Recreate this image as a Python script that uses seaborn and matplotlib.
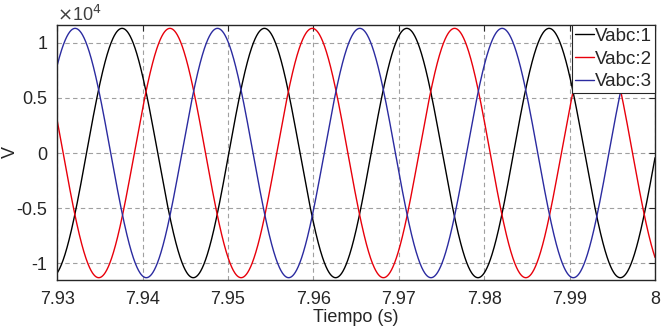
import numpy as np
import pandas as pd
import matplotlib
matplotlib.use("Agg")
import matplotlib.pyplot as plt
import seaborn as sns

# Signal values
phase_names = ["Vabc:1", "Vabc:2", "Vabc:3"]
phase_colors = ["#000000", "#e8000b", "#2b2ba0"]
peak_times = [7.9376, 7.9432, 7.9321]   # first crest of each phase (s)
amplitude = 1.13e4                      # crest value (V)
freq = 60.0                             # Hz
t_start, t_end = 7.93, 8.0

x_ticks = [7.93, 7.94, 7.95, 7.96, 7.97, 7.98, 7.99, 8.0]
x_labels = ["7.93", "7.94", "7.95", "7.96", "7.97", "7.98", "7.99", "8"]
y_ticks = [-1, -0.5, 0, 0.5, 1]
y_labels = ["-1", "-0.5", "0", "0.5", "1"]

# Build long-form table
t = np.linspace(t_start, t_end, 2000)
frames = []
for name, tp in zip(phase_names, peak_times):
    frames.append(pd.DataFrame({
        "t": t,
        "v": amplitude * np.cos(2 * np.pi * freq * (t - tp)) / 1e4,
        "phase": name,
    }))
df = pd.concat(frames, ignore_index=True)

sns.set_style("white")
plt.rcParams["font.family"] = ["Liberation Sans", "DejaVu Sans"]

fig = plt.figure(figsize=(6.65, 3.34), dpi=100)
ax = fig.add_axes([0.086, 0.162, 0.899, 0.763])

sns.lineplot(data=df, x="t", y="v", hue="phase", palette=phase_colors,
             linewidth=1.0, ax=ax, legend=True)

ax.set_xlim(t_start, t_end)
ax.set_ylim(-1.15, 1.16)
ax.set_xticks(x_ticks)
ax.set_xticklabels(x_labels)
ax.set_yticks(y_ticks)
ax.set_yticklabels(y_labels)
ax.tick_params(direction="in", length=4, labelsize=13, colors="#262626",
               top=True, right=True)
ax.tick_params(axis="x", pad=8)
ax.tick_params(axis="y", pad=7)
ax.grid(True, color="#a0a0a0", linestyle=(0, (4, 3)), linewidth=0.8)
for sp in ax.spines.values():
    sp.set_color("#262626")
    sp.set_linewidth(1.0)

ax.set_xlabel("Tiempo (s)", fontsize=13, color="#262626", labelpad=1)
ax.set_ylabel("V", fontsize=13, color="#262626")
ax.yaxis.set_label_coords(-0.064, 0.5)
ax.text(0.0, 1.0, r"$\times$10$^{4}$", transform=ax.transAxes,
        fontsize=13, color="#404040", ha="left", va="bottom")

leg = ax.legend(loc="upper right", fontsize=13.5, frameon=True, fancybox=False,
                borderaxespad=0, handlelength=1.0, handletextpad=0.08,
                borderpad=0.15, labelspacing=0.3)
leg.get_frame().set_edgecolor("#262626")
leg.get_frame().set_linewidth(0.8)
leg.get_frame().set_alpha(1)

fig.savefig("out.png", dpi=100)
